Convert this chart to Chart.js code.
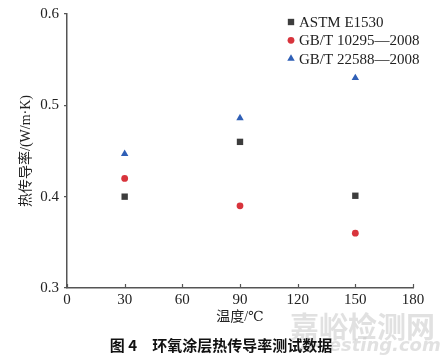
<!DOCTYPE html>
<html>
<head>
<meta charset="utf-8">
<script src="https://cdn.jsdelivr.net/npm/chart.js@4"></script>
<style>
  html, body { margin: 0; padding: 0; background: #fff; }
  #wrap { width: 442px; height: 360px; position: relative; }
</style>
</head>
<body>
<div id="wrap"><canvas id="c" width="442" height="360"></canvas></div>
<script>
// Thermal conductivity of epoxy coating vs temperature, three test standards
var TEMPS = [30, 90, 150];
var ASTM = [0.400, 0.460, 0.401];
var GB10295 = [0.420, 0.390, 0.360];
var GB22588 = [0.447, 0.486, 0.530];
var NAMES = ['ASTM E1530', 'GB/T 10295\u20142008', 'GB/T 22588\u20142008'];
var X_TICKS = [0, 30, 60, 90, 120, 150, 180];
var Y_TICKS = [0.3, 0.4, 0.5, 0.6];

var SERIF = "'Liberation Serif', 'DejaVu Serif', 'Noto Sans CJK SC', serif";
var AXIS = '#555555';

function pts(ys) {
    return TEMPS.map(function (t, i) { return { x: t, y: ys[i] }; });
}

// small inward tick marks on the x axis
var xTickPlugin = {
    id: 'xTicksUp',
    afterDraw: function (chart) {
        var x = chart.scales.x, ctx = chart.ctx, b = chart.chartArea.bottom;
        ctx.save();
        ctx.strokeStyle = AXIS;
        ctx.lineWidth = 1.2;
        x.ticks.forEach(function (t) {
            var px = Math.round(x.getPixelForValue(t.value)) + 0.5;
            ctx.beginPath();
            ctx.moveTo(px, b);
            ctx.lineTo(px, b - 4);
            ctx.stroke();
        });
        ctx.restore();
    }
};

// legend inside the plot, top right
var legendPlugin = {
    id: 'innerLegend',
    afterDraw: function (chart) {
        var ctx = chart.ctx;
        var x0 = 291, y0 = 22, step = 18.3;
        ctx.save();
        ctx.font = '15px ' + SERIF;
        ctx.textBaseline = 'middle';
        ctx.textAlign = 'left';
        chart.data.datasets.forEach(function (ds, i) {
            var y = y0 + i * step;
            ctx.fillStyle = ds.backgroundColor;
            Chart.helpers.drawPoint(ctx, { pointStyle: ds.pointStyle, radius: ds.pointRadius, rotation: 0, borderWidth: 0 }, x0, y);
            ctx.fillStyle = '#222';
            ctx.fillText(ds.label, x0 + 8, y + 1);
        });
        ctx.restore();
    }
};

// figure caption and watermark under the chart
var captionPlugin = {
    id: 'caption',
    afterDraw: function (chart) {
        var ctx = chart.ctx;
        ctx.save();
        ctx.fillStyle = 'rgba(200,200,200,0.55)';
        ctx.font = 'bold 29px "Noto Sans CJK SC", sans-serif';
        ctx.textAlign = 'left';
        ctx.textBaseline = 'middle';
        ctx.fillText('嘉峪检测网', 290, 327);
        ctx.font = 'italic bold 18px "DejaVu Sans", sans-serif';
        ctx.fillText('A-Testing.com', 300, 346);
        ctx.fillStyle = '#111';
        ctx.font = 'bold 15px "Noto Sans CJK SC", sans-serif';
        ctx.textAlign = 'center';
        ctx.fillText('图 4\u3000环氧涂层热传导率测试数据', 221, 345);
        ctx.restore();
    }
};

new Chart(document.getElementById('c'), {
    type: 'scatter',
    data: {
        datasets: [
            { label: NAMES[0], data: pts(ASTM), pointStyle: 'rect', pointRadius: 4.5, backgroundColor: '#3d3d3d', borderWidth: 0 },
            { label: NAMES[1], data: pts(GB10295), pointStyle: 'circle', pointRadius: 3.4, backgroundColor: '#d8343c', borderWidth: 0 },
            { label: NAMES[2], data: pts(GB22588), pointStyle: 'triangle', pointRadius: 4.3, backgroundColor: '#2f5fb6', borderWidth: 0 }
        ]
    },
    options: {
        responsive: false,
        animation: false,
        layout: { padding: { top: 11, right: 29, bottom: 30, left: 0 } },
        plugins: { legend: { display: false }, tooltip: { enabled: false } },
        scales: {
            x: {
                type: 'linear',
                min: 0, max: 180,
                afterBuildTicks: function (s) { s.ticks = X_TICKS.map(function (v) { return { value: v }; }); },
                afterFit: function (s) { s.height = 42; },
                grid: { display: false, drawTicks: false, tickLength: 0 },
                border: { display: true, color: AXIS, width: 1.5 },
                ticks: { color: '#222', padding: 3, font: { size: 15, family: SERIF } },
                title: { display: true, text: '温度/℃', color: '#222', padding: { top: 0, bottom: 4 }, font: { size: 14, family: SERIF } }
            },
            y: {
                type: 'linear',
                min: 0.3, max: 0.6,
                afterBuildTicks: function (s) { s.ticks = Y_TICKS.map(function (v) { return { value: v }; }); },
                afterFit: function (s) { s.width = 67; },
                grid: { display: true, drawOnChartArea: false, tickLength: 3, color: AXIS, lineWidth: 1.2 },
                border: { display: true, color: AXIS, width: 1.5 },
                ticks: { color: '#222', padding: 5, font: { size: 15, family: SERIF }, callback: function (v) { return v.toFixed(1); } },
                title: { display: true, text: '热传导率/(W/m·K)', color: '#222', padding: { top: 18, bottom: 0 }, font: { size: 14, family: SERIF } }
            }
        }
    },
    plugins: [xTickPlugin, legendPlugin, captionPlugin]
});
</script>
</body>
</html>
